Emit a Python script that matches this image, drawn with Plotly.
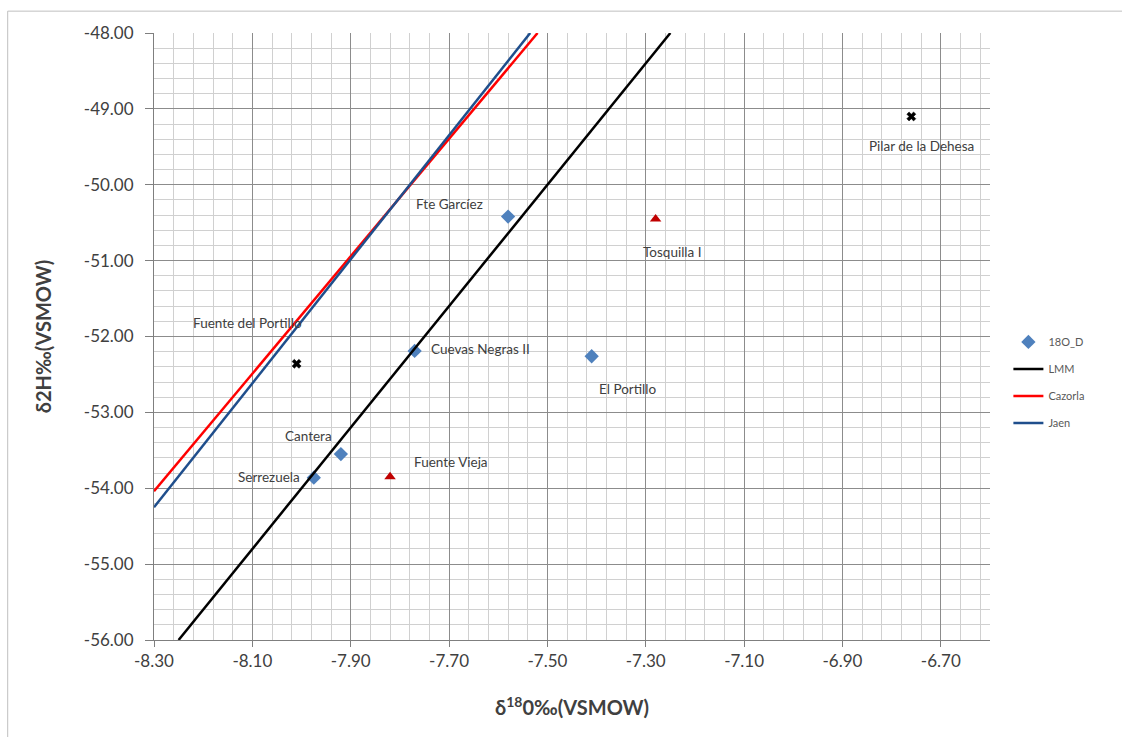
import plotly.graph_objects as go

# Data
d18_names = ["Fte Garcíez", "Cuevas Negras II", "El Portillo", "Cantera", "Serrezuela"]
d18_x = [-7.58, -7.77, -7.41, -7.92, -7.975]
d18_y = [-50.42, -52.19, -52.26, -53.55, -53.86]

tri_names = ["Tosquilla I", "Fuente Vieja"]
tri_x = [-7.28, -7.82]
tri_y = [-50.45, -53.85]

x_names = ["Fuente del Portillo", "Pilar de la Dehesa"]
x_x = [-8.01, -6.76]
x_y = [-52.36, -49.10]

lmm_x = [-8.25, -7.25]
lmm_y = [-56.0, -48.0]
caz_x = [-8.30, -7.52]
caz_y = [-54.04, -48.0]
jaen_x = [-8.30, -7.535]
jaen_y = [-54.25, -48.0]

x_ticks = [-8.30, -8.10, -7.90, -7.70, -7.50, -7.30, -7.10, -6.90, -6.70]
y_ticks = [-56.0, -55.0, -54.0, -53.0, -52.0, -51.0, -50.0, -49.0, -48.0]

# label offsets (pixels) : (xshift, yshift, xanchor)
label_style = {
    "Fte Garcíez": (-59, 13, "center"),
    "Cuevas Negras II": (14, 2, "left"),
    "El Portillo": (36, -33, "center"),
    "Cantera": (-32, 18, "center"),
    "Serrezuela": (-12, 1, "right"),
    "Tosquilla I": (16, -33, "center"),
    "Fuente Vieja": (22, 15, "left"),
    "Fuente del Portillo": (-49, 41, "center"),
    "Pilar de la Dehesa": (10, -30, "center"),
}

FONT = "Lato"
fig = go.Figure()

fig.add_trace(go.Scatter(x=d18_x, y=d18_y, mode="markers", name="18O_D",
                         marker=dict(symbol="diamond", size=11, color="#4F81BD"),
                         legendgroup="a"))
fig.add_trace(go.Scatter(x=lmm_x, y=lmm_y, mode="lines", name="LMM",
                         line=dict(color="black", width=2.5), legendgroup="b"))
fig.add_trace(go.Scatter(x=caz_x, y=caz_y, mode="lines", name="Cazorla",
                         line=dict(color="#FF0000", width=2.5), legendgroup="c"))
fig.add_trace(go.Scatter(x=jaen_x, y=jaen_y, mode="lines", name="Jaen",
                         line=dict(color="#1F4E8C", width=2.5), legendgroup="d"))
fig.add_trace(go.Scatter(x=tri_x, y=tri_y, mode="markers", showlegend=False,
                         marker=dict(symbol="triangle-up", size=10, color="#C00000")))
fig.add_trace(go.Scatter(x=x_x, y=x_y, mode="markers", showlegend=False,
                         marker=dict(symbol="x", size=8, color="black",
                                     line=dict(width=0.5, color="black"))))

annotations = []
for names, xs, ys in [(d18_names, d18_x, d18_y), (tri_names, tri_x, tri_y), (x_names, x_x, x_y)]:
    for n, xv, yv in zip(names, xs, ys):
        xs_, ys_, xa = label_style[n]
        annotations.append(dict(x=xv, y=yv, text=n, showarrow=False,
                                xshift=xs_, yshift=ys_, xanchor=xa,
                                font=dict(family=FONT, size=13.5, color="#404040")))

fig.update_layout(
    width=1122, height=737,
    margin=dict(l=154, r=132, t=33, b=97),
    paper_bgcolor="white", plot_bgcolor="white",
    font=dict(family=FONT, color="#404040"),
    annotations=annotations,
    showlegend=True,
    legend=dict(x=1.022, y=0.515, xanchor="left", yanchor="top",
                font=dict(family=FONT, size=11, color="#595959"),
                traceorder="grouped", tracegroupgap=8, itemwidth=30,
                bgcolor="rgba(0,0,0,0)"),
    shapes=[
        dict(type="line", xref="paper", yref="paper",
             x0=-0.175, x1=1.2, y0=1.036, y1=1.036,
             line=dict(color="#BFBFBF", width=1)),
        dict(type="line", xref="paper", yref="paper",
             x0=-0.175, x1=-0.175, y0=-0.2, y1=1.036,
             line=dict(color="#BFBFBF", width=1)),
    ],
)

fig.update_xaxes(
    range=[-8.30, -6.60], tickvals=x_ticks, ticktext=[f"{v:.2f}" for v in x_ticks],
    showgrid=True, gridcolor="#8C8C8C", gridwidth=1,
    minor=dict(dtick=0.04, tick0=-8.30, showgrid=True, gridcolor="#D0D0D0", gridwidth=1),
    showline=True, linecolor="#7F7F7F", linewidth=1,
    ticks="outside", ticklen=6, tickcolor="#7F7F7F",
    tickfont=dict(family=FONT, size=17, color="#404040"),
    zeroline=False,
    title=dict(text="<b>δ<sup>18</sup>0‰(VSMOW)</b>", font=dict(family=FONT, size=20, color="#404040"),
               standoff=30),
)
fig.update_yaxes(
    range=[-56.0, -48.0], tickvals=y_ticks, ticktext=[f"{v:.2f}" for v in y_ticks],
    showgrid=True, gridcolor="#8C8C8C", gridwidth=1,
    minor=dict(dtick=0.2, showgrid=True, gridcolor="#D0D0D0", gridwidth=1),
    showline=True, linecolor="#7F7F7F", linewidth=1,
    ticks="outside", ticklen=8, tickcolor="#7F7F7F",
    ticklabelstandoff=8,
    tickfont=dict(family=FONT, size=17, color="#404040"),
    zeroline=False,
    title=dict(text="<b>δ2H‰(VSMOW)</b>", font=dict(family=FONT, size=20, color="#404040"),
               standoff=26),
)

fig.write_html("out.html")
